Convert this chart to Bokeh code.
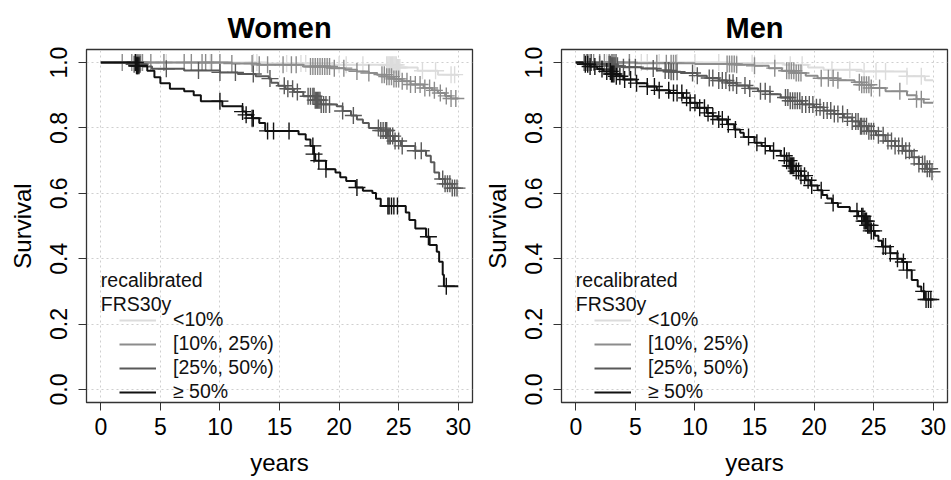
import numpy as np
from bokeh.plotting import figure
from bokeh.layouts import row
from bokeh.models import FixedTicker, Legend, LegendItem, Label, Range1d, PrintfTickFormatter
from bokeh.embed import file_html
from bokeh.resources import INLINE

# ---------------- data ----------------
group_labels = ["<10%", "[10%, 25%)", "[25%, 50%)", "\u2265 50%"]
group_colors = ["#dcdcdc", "#8c8c8c", "#595959", "#111111"]
x_ticks = [0, 5, 10, 15, 20, 25, 30]
y_ticks = [0.0, 0.2, 0.4, 0.6, 0.8, 1.0]
end_time = 30.0

# Women
w_lt10_t = [0, 14.0, 19.5, 24.9, 26.6, 28.3]
w_lt10_s = [1.0, 0.997, 0.993, 0.985, 0.975, 0.963]
w_lt10_c = [2.9, 3.0, 3.1, 3.2, 3.3, 3.4, 5.5, 9.2, 12.8, 13.1, 15.6, 16.8, 17.2, 20.0, 20.6, 22.0,
            24.0, 24.1, 24.2, 24.3, 24.4, 24.5, 24.6, 24.7, 24.8, 24.9, 25.0, 25.1, 27.0, 28.1, 29.4, 29.7]

w_10_t = [0, 11.0, 13.1, 17.0, 19.3, 20.5, 21.5, 22.5, 23.2, 24.0, 24.6, 25.3, 26.0, 27.1, 27.8, 28.3, 28.9, 29.4]
w_10_s = [1.0, 0.997, 0.993, 0.988, 0.983, 0.978, 0.973, 0.968, 0.963, 0.957, 0.95, 0.943, 0.933, 0.922,
          0.915, 0.907, 0.898, 0.89]
w_10_c = [1.8, 2.6, 3.0, 3.1, 3.2, 3.3, 3.5, 4.2, 5.3, 7.0, 7.6, 8.5, 8.8, 9.3, 10.0, 11.0, 12.7, 13.3,
          14.0, 15.3, 16.0, 16.4, 17.6, 17.8, 18.0, 18.2, 18.4, 18.6, 18.8, 19.0, 19.2, 19.6, 20.4, 21.5,
          22.5, 23.6, 23.8, 24.0, 24.2, 24.4, 24.6, 24.8, 25.0, 25.3, 25.7, 26.0, 26.4, 26.8, 27.2, 27.6,
          28.0, 28.5, 29.0, 29.4, 29.8]

w_25_t = [0, 2.5, 3.5, 4.3, 7.0, 10.0, 11.5, 13.0, 14.1, 14.3, 14.9, 15.5, 16.2, 17.0, 18.0, 18.5, 19.8,
          20.3, 21.0, 21.5, 22.0, 22.5, 23.5, 24.1, 24.6, 25.2, 26.4, 27.3, 27.7, 28.0, 28.4, 28.9, 29.5]
w_25_s = [1.0, 0.995, 0.988, 0.981, 0.976, 0.970, 0.965, 0.958, 0.951, 0.938, 0.929, 0.92, 0.91, 0.897,
          0.885, 0.872, 0.866, 0.852, 0.838, 0.826, 0.815, 0.80, 0.792, 0.775, 0.76, 0.745, 0.73, 0.715,
          0.695, 0.664, 0.644, 0.629, 0.616]
w_25_c = [2.8, 3.0, 3.1, 3.2, 3.3, 5.5, 8.2, 10.0, 11.3, 12.8, 14.2, 15.4, 15.7, 16.1, 16.5, 17.4, 17.6,
          17.8, 17.9, 18.0, 18.1, 18.2, 18.3, 18.4, 18.5, 18.7, 18.9, 19.2, 20.3, 21.2, 23.3, 23.5, 23.7,
          23.9, 24.0, 24.1, 24.2, 24.3, 24.5, 24.7, 25.0, 25.3, 26.4, 26.9, 28.7, 28.9, 29.1, 29.3, 29.5,
          29.7, 29.9]

w_50_t = [0, 3.0, 3.9, 4.5, 5.0, 5.8, 7.0, 7.8, 8.4, 10.2, 11.9, 12.2, 12.7, 13.3, 13.8, 16.6, 17.2, 17.6,
          17.9, 18.0, 18.9, 19.7, 20.1, 20.6, 21.4, 22.0, 22.8, 23.1, 23.5, 25.6, 25.9, 26.4, 27.3, 27.6,
          28.2, 28.4, 28.7, 28.8]
w_50_s = [1.0, 0.99, 0.975, 0.955, 0.937, 0.92, 0.912, 0.90, 0.882, 0.866, 0.85, 0.84, 0.83, 0.815, 0.791,
          0.781, 0.765, 0.745, 0.72, 0.70, 0.674, 0.664, 0.649, 0.638, 0.618, 0.608, 0.601, 0.583, 0.561,
          0.541, 0.518, 0.492, 0.467, 0.442, 0.421, 0.391, 0.351, 0.316]
w_50_c = [2.9, 3.0, 3.05, 3.1, 3.2, 10.0, 11.9, 12.2, 12.7, 12.8, 14.0, 14.5, 15.8, 17.8, 17.9, 18.3,
          18.9, 21.5, 24.1, 24.2, 24.4, 24.6, 24.9, 27.5, 29.0]

# Men
m_lt10_t = [0, 13.0, 17.5, 19.5, 20.8, 24.0, 27.8, 29.3]
m_lt10_s = [1.0, 0.998, 0.993, 0.985, 0.978, 0.973, 0.958, 0.946]
m_lt10_c = [0.9, 1.1, 2.0, 2.6, 3.0, 3.1, 3.2, 3.3, 4.5, 5.5, 6.0, 7.0, 8.5, 10.0, 12.0, 13.5, 14.8,
            16.7, 18.0, 19.0, 21.5, 23.0, 24.2, 25.2, 26.0, 27.8, 29.0]

m_10_t = [0, 5.0, 10.0, 13.4, 15.0, 16.2, 17.3, 18.4, 19.3, 20.3, 22.0, 23.4, 24.0, 24.8, 26.0, 27.8, 28.6, 29.2]
m_10_s = [1.0, 0.998, 0.996, 0.993, 0.99, 0.983, 0.975, 0.968, 0.96, 0.952, 0.946, 0.94, 0.932, 0.922,
          0.912, 0.90, 0.888, 0.877]
m_10_c = [0.9, 1.2, 1.5, 2.0, 2.4, 2.8, 3.0, 3.1, 3.2, 3.3, 3.4, 4.5, 6.8, 7.6, 8.0, 8.2, 8.4, 12.7, 12.9,
          13.1, 13.3, 13.5, 15.0, 16.7, 17.7, 17.9, 18.1, 18.3, 18.5, 18.7, 18.9, 20.6, 21.2, 21.6, 22.0,
          23.8, 24.0, 24.2, 24.4, 24.6, 24.8, 25.5, 27.2, 28.6, 29.0]

m_25_t = [0, 1.5, 3.0, 4.0, 5.5, 6.8, 8.0, 8.8, 10.2, 11.0, 12.0, 12.7, 13.5, 14.5, 15.3, 16.3, 17.2, 18.0,
          19.0, 20.0, 20.8, 21.7, 22.5, 23.2, 23.8, 24.5, 25.2, 26.0, 26.8, 27.5, 28.2, 28.8, 29.4, 29.8]
m_25_s = [1.0, 0.995, 0.99, 0.986, 0.982, 0.976, 0.972, 0.968, 0.960, 0.953, 0.945, 0.938, 0.930, 0.921,
          0.912, 0.903, 0.893, 0.883, 0.872, 0.863, 0.853, 0.843, 0.832, 0.82, 0.805, 0.79, 0.778, 0.76,
          0.745, 0.73, 0.71, 0.69, 0.675, 0.666]
m_25_c = [0.7, 1.0, 1.3, 2.0, 2.8, 2.9, 3.0, 3.1, 3.2, 3.3, 3.5, 4.0, 4.5, 5.0, 6.5, 7.5, 7.8, 8.0, 8.2,
          8.5, 9.8, 10.2, 11.2, 11.5, 12.0, 12.3, 12.6, 12.9, 13.2, 13.5, 14.2, 14.6, 15.5, 15.9, 16.3,
          17.6, 17.8, 18.0, 18.2, 18.4, 18.6, 18.8, 19.0, 19.3, 19.6, 19.9, 20.2, 20.5, 20.8, 21.1, 21.4,
          21.7, 22.0, 22.4, 22.8, 23.2, 23.5, 23.7, 23.9, 24.0, 24.2, 24.4, 24.6, 24.8, 25.0, 25.4, 25.8,
          26.2, 26.5, 26.8, 27.1, 27.4, 27.7, 28.0, 28.4, 28.8, 29.1, 29.3, 29.5, 29.7, 29.9]

m_50_t = [0, 0.6, 1.2, 1.8, 2.3, 3.0, 3.4, 4.0, 5.1, 6.0, 6.8, 7.9, 9.0, 9.6, 10.2, 11.0, 11.5, 11.9, 12.7,
          13.3, 13.8, 14.1, 15.0, 15.6, 16.3, 17.2, 17.7, 18.0, 18.5, 18.9, 19.3, 19.7, 20.3, 20.7, 21.1,
          21.5, 22.0, 23.0, 23.7, 24.2, 24.5, 24.8, 25.1, 25.4, 25.7, 26.4, 27.0, 27.4, 27.8, 28.2, 28.7,
          29.0, 29.3]
m_50_s = [1.0, 0.995, 0.988, 0.98, 0.973, 0.965, 0.958, 0.948, 0.937, 0.927, 0.915, 0.907, 0.892, 0.877,
          0.862, 0.846, 0.836, 0.826, 0.811, 0.795, 0.785, 0.772, 0.755, 0.745, 0.73, 0.715, 0.70, 0.684,
          0.668, 0.654, 0.64, 0.624, 0.609, 0.595, 0.584, 0.570, 0.558, 0.545, 0.530, 0.515, 0.502, 0.485,
          0.470, 0.455, 0.437, 0.417, 0.400, 0.390, 0.365, 0.335, 0.315, 0.300, 0.275]
m_50_c = [0.8, 1.0, 1.2, 1.6, 2.2, 2.6, 2.9, 3.0, 3.1, 3.2, 3.4, 3.7, 4.1, 4.6, 5.1, 6.0, 6.6, 7.0, 7.8,
          8.2, 8.5, 8.9, 9.3, 9.6, 10.0, 10.4, 10.8, 11.1, 11.5, 12.0, 12.3, 12.8, 13.4, 14.5, 15.2, 15.9,
          16.6, 17.5, 17.7, 17.9, 18.0, 18.1, 18.2, 18.3, 18.5, 18.7, 18.9, 19.2, 19.5, 19.8, 20.6, 21.6,
          23.6, 24.0, 24.1, 24.2, 24.3, 24.4, 24.5, 24.6, 24.7, 24.8, 25.0, 25.8, 26.0, 26.4, 27.0, 27.5,
          27.8, 29.2, 29.4, 29.6, 29.8]

women = [(w_lt10_t, w_lt10_s, w_lt10_c), (w_10_t, w_10_s, w_10_c),
         (w_25_t, w_25_s, w_25_c), (w_50_t, w_50_s, w_50_c)]
men = [(m_lt10_t, m_lt10_s, m_lt10_c), (m_10_t, m_10_s, m_10_c),
       (m_25_t, m_25_s, m_25_c), (m_50_t, m_50_s, m_50_c)]

FONT = "Liberation Sans"


def step_value(ts, ss, c):
    ts = np.asarray(ts)
    ss = np.asarray(ss)
    idx = np.searchsorted(ts, c, side="right") - 1
    return ss[idx]


def make_panel(title, groups, width, border_left, border_right):
    p = figure(width=width, height=478,
               min_border_left=border_left, min_border_right=border_right,
               min_border_top=49, min_border_bottom=72,
               x_range=Range1d(-1.2, 31.2), y_range=Range1d(-0.04, 1.04),
               output_backend="svg", toolbar_location=None,
               background_fill_color="white", border_fill_color="white")
    p.title.text = title
    p.title.text_font = FONT
    p.title.text_font_size = "29px"
    p.title.text_font_style = "bold"
    p.title.align = "center"
    p.title.text_color = "#000000"
    p.title.standoff = 11

    p.outline_line_color = "#333333"
    p.outline_line_width = 1.3

    for g in (p.xgrid, p.ygrid):
        g.grid_line_color = "#cfcfcf"
        g.grid_line_dash = "2 3"
        g.grid_line_width = 1
    p.xgrid.ticker = FixedTicker(ticks=x_ticks)
    p.ygrid.ticker = FixedTicker(ticks=y_ticks)

    p.xaxis.ticker = FixedTicker(ticks=x_ticks)
    p.yaxis.ticker = FixedTicker(ticks=y_ticks)
    p.yaxis.formatter = PrintfTickFormatter(format="%.1f")
    p.xaxis.axis_label = "years"
    p.yaxis.axis_label = "Survival"
    for ax in (p.xaxis[0], p.yaxis[0]):
        ax.axis_line_color = "#333333"
        ax.major_tick_line_color = "#333333"
        ax.major_tick_out = 8
        ax.major_tick_in = 0
        ax.minor_tick_line_color = None
        ax.major_label_text_font = FONT
        ax.major_label_text_font_size = "23px"
        ax.major_label_text_color = "#000000"
        ax.axis_label_text_font = FONT
        ax.axis_label_text_font_size = "24px"
        ax.axis_label_text_font_style = "normal"
        ax.axis_label_text_color = "#000000"
    p.yaxis.major_label_orientation = "vertical"
    p.xaxis.major_label_standoff = 7
    p.yaxis.major_label_standoff = 11
    p.xaxis.axis_label_standoff = 11
    p.yaxis.axis_label_standoff = 12

    items = []
    for (ts, ss, cs), lab, col in zip(groups, group_labels, group_colors):
        xs = list(ts) + [end_time]
        ys = list(ss) + [ss[-1]]
        r = p.step(xs, ys, mode="after", line_color=col, line_width=2)
        cy = step_value(ts, ss, cs)
        p.scatter(cs, cy, marker="cross", size=17, line_color=col, line_width=1.4)
        items.append(LegendItem(label=lab, renderers=[r]))

    legend = Legend(items=items, location=(33, -1),
                    glyph_width=37, glyph_height=20, label_height=20, spacing=1,
                    label_standoff=17, padding=0, margin=0,
                    border_line_color=None, background_fill_alpha=0,
                    label_text_font=FONT, label_text_font_size="19.5px",
                    label_text_color="#111111")
    p.add_layout(legend)

    for txt, yy in (("recalibrated", 0.335), ("FRS30y", 0.262)):
        p.add_layout(Label(x=0.0, y=yy, text=txt, text_baseline="middle",
                           text_font=FONT, text_font_size="19.5px", text_color="#111111"))
    return p


p1 = make_panel("Women", women, 475, 86, 3)
p2 = make_panel("Men", men, 476, 86, 4)
layout = row(p1, p2)

open("out.html", "w").write(file_html(layout, INLINE))
